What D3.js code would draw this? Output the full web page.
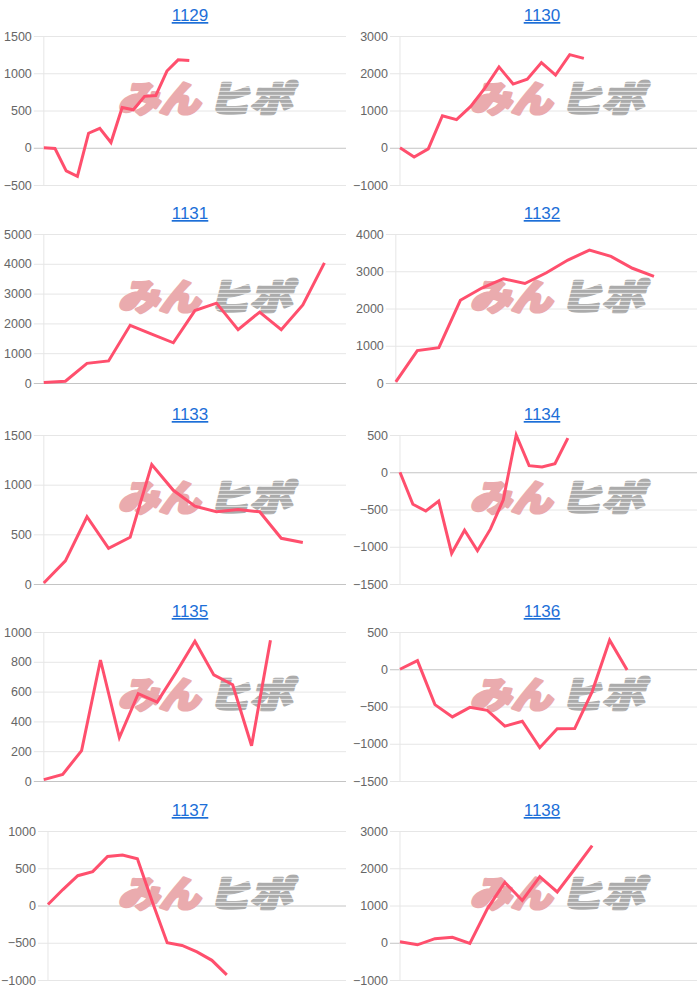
<!DOCTYPE html>
<html>
<head>
<meta charset="utf-8">
<script src="https://cdn.jsdelivr.net/npm/d3@7"></script>
<style>
  body { margin: 0; background: #fff; }
  svg { display: block; }
</style>
</head>
<body>
<svg id="chart" width="700" height="990"></svg>
<script>
// chart ids, one small chart each
const titles = ["1129", "1130", "1131", "1132", "1133", "1134", "1135", "1136", "1137", "1138"];

// values
const s1129 = [0, -10, -310, -385, 195, 260, 70, 540, 510, 690, 700, 1030, 1180, 1170];
const s1130 = [0, -250, -30, 860, 755, 1110, 1600, 2170, 1710, 1840, 2285, 1950, 2500, 2400];
const s1131 = [20, 60, 660, 740, 1935, 1640, 1350, 2430, 2680, 1790, 2380, 1790, 2620, 4030];
const s1132 = [30, 870, 950, 2220, 2550, 2800, 2670, 2960, 3300, 3570, 3400, 3080, 2860];
const s1133 = [10, 233, 677, 360, 470, 1203, 943, 783, 727, 750, 727, 460, 417];
const s1134 = [0, -430, -520, -387, -1090, -778, -1053, -764, -370, 500, 89, 70, 115, 458];
const s1135 = [9, 44, 204, 812, 292, 586, 529, 728, 938, 712, 646, 237, 945];
const s1136 = [0, 115, -475, -640, -511, -551, -764, -698, -1053, -800, -796, -300, 391, -10];
const s1137 = [14, 214, 400, 455, 659, 677, 627, 50, -500, -536, -623, -736, -932];
const s1138 = [27, -55, 109, 145, -20, 910, 1620, 1136, 1773, 1364, 1980, 2610];
const series = [s1129, s1130, s1131, s1132, s1133, s1134, s1135, s1136, s1137, s1138];

// number of x categories on each chart (points do not always fill them)
const slotCounts = [28, 22, 15, 15, 15, 24, 17, 18, 21, 18];

// y tick labels
const yTicks = [
  [-500, 0, 500, 1000, 1500],
  [-1000, 0, 1000, 2000, 3000],
  [0, 1000, 2000, 3000, 4000, 5000],
  [0, 1000, 2000, 3000, 4000],
  [0, 500, 1000, 1500],
  [-1500, -1000, -500, 0, 500],
  [0, 200, 400, 600, 800, 1000],
  [-1500, -1000, -500, 0, 500],
  [-1000, -500, 0, 500, 1000],
  [-1000, 0, 1000, 2000, 3000]
];

const svg = d3.select("#chart");

// grid of cells
const cellX = [0, 352];
const colX = [4, 356];
const colRight = [346, 697];
const rowY = [0, 198, 399, 596, 795];
const plotH = 149;
const lineColor = "#ff4f6d";
const labelFont = "'Liberation Sans', Arial, sans-serif";

// stripes for the grey half of the watermark
const defs = svg.append("defs");
const pat = defs.append("pattern")
  .attr("id", "stripes")
  .attr("patternUnits", "userSpaceOnUse")
  .attr("width", 12)
  .attr("height", 4);
pat.append("rect").attr("width", 12).attr("height", 4).attr("fill", "#ababab");
pat.append("rect").attr("y", 3).attr("width", 12).attr("height", 1).attr("fill", "#e4e4e4");

// measure tick label width so the plot starts right after the labels
const measure = svg.append("text")
  .style("font", `12.5px ${labelFont}`);
const textWidth = s => {
  measure.text(s);
  return measure.node().getComputedTextLength();
};

titles.forEach((title, i) => {
  const col = i % 2;
  const row = Math.floor(i / 2);
  const ticks = yTicks[i];
  const data = series[i];

  const labelW = d3.max(ticks, t => textWidth(String(t)));
  const left = colX[col] + labelW + 12;
  const right = colRight[col];
  const top = rowY[row] + 36;
  const bottom = top + plotH;

  const x = d3.scalePoint()
    .domain(d3.range(slotCounts[i]))
    .range([left, right]);

  const y = d3.scaleLinear()
    .domain(d3.extent(ticks))
    .range([bottom, top]);

  const g = svg.append("g").attr("class", "cell");

  // title
  g.append("text")
    .attr("x", cellX[col] + 190)
    .attr("y", rowY[row] + 21)
    .attr("text-anchor", "middle")
    .style("font", `17px ${labelFont}`)
    .style("fill", "#1d6fd8")
    .style("text-decoration", "underline")
    .text(title);

  // y axis
  const yAxis = g.append("g")
    .attr("transform", `translate(${left},0)`)
    .call(d3.axisLeft(y)
      .tickValues(ticks)
      .tickSize(10)
      .tickPadding(2)
      .tickFormat(d3.format("d")));
  yAxis.select(".domain").remove();
  yAxis.selectAll(".tick line")
    .attr("x2", right - left + 10)
    .attr("transform", "translate(-10,0)")
    .attr("stroke", d => d === 0 ? "#c4c4c4" : "#e6e6e6");
  yAxis.selectAll(".tick text")
    .attr("fill", "#666")
    .style("font", `12.5px ${labelFont}`);

  // left border
  g.append("line")
    .attr("x1", left).attr("x2", left)
    .attr("y1", top).attr("y2", bottom)
    .attr("stroke", "#e6e6e6");

  // watermark
  const wm = g.append("g")
    .attr("transform", `translate(${cellX[col] + 118},${rowY[row] + 112}) skewX(-14)`)
    .style("font-family", "'Noto Sans CJK JP', sans-serif")
    .style("font-weight", "900")
    .style("font-size", "36px");
  wm.append("text")
    .attr("x", 0)
    .attr("textLength", 82)
    .attr("lengthAdjust", "spacingAndGlyphs")
    .attr("fill", "#eaabae")
    .attr("stroke", "#eaabae")
    .attr("stroke-width", 3)
    .attr("stroke-linejoin", "round")
    .text("みん");
  wm.append("text")
    .attr("x", 90)
    .attr("textLength", 84)
    .attr("lengthAdjust", "spacingAndGlyphs")
    .attr("fill", "url(#stripes)")
    .attr("stroke", "url(#stripes)")
    .attr("stroke-width", 3)
    .attr("stroke-linejoin", "round")
    .text("ヒポ");

  // series line
  g.append("path")
    .datum(data)
    .attr("fill", "none")
    .attr("stroke", lineColor)
    .attr("stroke-width", 3)
    .attr("stroke-linejoin", "miter")
    .attr("d", d3.line()
      .x((d, k) => x(k))
      .y(d => y(d)));
});

measure.remove();
</script>
</body>
</html>
